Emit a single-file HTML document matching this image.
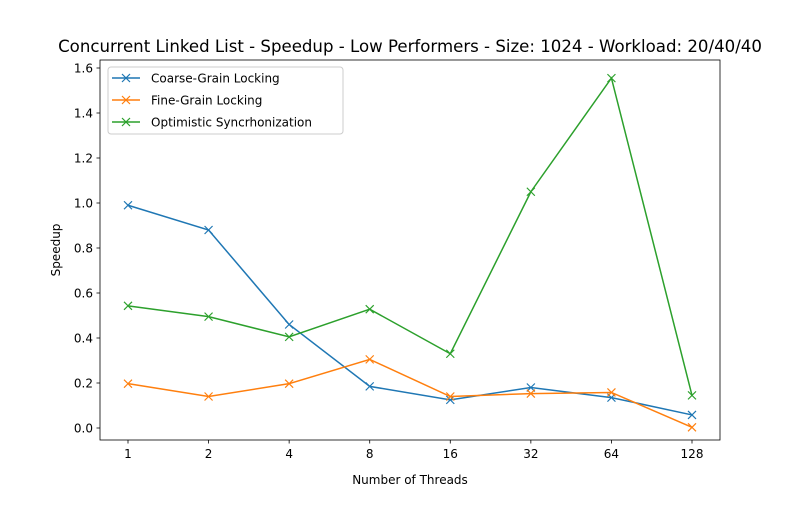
<!DOCTYPE html>
<html><head><meta charset="utf-8"><style>
body{margin:0;background:#fff}
svg text{font-family:"DejaVu Sans","Liberation Sans",sans-serif;fill:#000}
</style></head><body>
<svg id="chart" width="800" height="500">
<rect x="0" y="0" width="800" height="500" fill="#fff"/>
<text x="410" y="52" font-size="16.6" text-anchor="middle">Concurrent Linked List - Speedup - Low Performers - Size: 1024 - Workload: 20/40/40</text>
<g id="axes"></g>
<g id="series"></g>
<rect x="100" y="60" width="620" height="380" fill="none" stroke="#000" stroke-width="0.8"/>
<text x="410" y="484" font-size="12" text-anchor="middle">Number of Threads</text>
<text transform="translate(60,250) rotate(-90)" font-size="12" text-anchor="middle">Speedup</text>
<g id="legend"></g>
</svg>
<script>
const categories=["1","2","4","8","16","32","64","128"];
const coarse=[0.99,0.88,0.46,0.185,0.125,0.18,0.135,0.058];
const fine=[0.197,0.14,0.197,0.305,0.14,0.153,0.158,0.003];
const optimistic=[0.543,0.495,0.405,0.528,0.33,1.05,1.555,0.145];
const yTicks=[0,0.2,0.4,0.6,0.8,1.0,1.2,1.4,1.6];
const seriesNames=["Coarse-Grain Locking","Fine-Grain Locking","Optimistic Syncrhonization"];
const colors=["#1f77b4","#ff7f0e","#2ca02c"];
const NS="http://www.w3.org/2000/svg";
function xs(i){return 128+i*(692-128)/(categories.length-1);}
function ys(v){return 428-v*225;}
function mk(t,a,p){const e=document.createElementNS(NS,t);for(const k in a)e.setAttribute(k,a[k]);p.appendChild(e);return e;}
const axes=document.getElementById('axes');
categories.forEach((c,i)=>{
 const l=mk('line',{x1:xs(i),x2:xs(i),y1:440,y2:443.5,stroke:'#000','stroke-width':0.8},axes);
 
 
 const t=mk('text',{x:xs(i),y:458,'font-size':12,'text-anchor':'middle'},axes);t.textContent=c;
 
 
});
yTicks.forEach(v=>{
 const l=mk('line',{x1:96.5,x2:100,y1:ys(v),y2:ys(v),stroke:'#000','stroke-width':0.8},axes);
 
 
 const t=mk('text',{x:93,y:ys(v)+4.5,'font-size':12,'text-anchor':'end'},axes);t.textContent=v.toFixed(1);
 
 
});
const sg=document.getElementById('series');
[coarse,fine,optimistic].forEach((d,s)=>{
 const g=mk('g',{},sg);
 
 
 const p=mk('polyline',{points:d.map((v,i)=>xs(i)+','+ys(v)).join(' '),fill:'none',stroke:colors[s],'stroke-width':1.5},g);
 
 
 d.forEach((v,i)=>{
  const x=xs(i),y=ys(v);
  const m=mk('path',{d:`M${x-4},${y-4}L${x+4},${y+4}M${x-4},${y+4}L${x+4},${y-4}`,stroke:colors[s],'stroke-width':1.2},g);
  
  
 });
});
const lg=document.getElementById('legend');
mk('rect',{x:108,y:67,width:235,height:67,rx:3,fill:'#fff','fill-opacity':0.8,stroke:'#ccc'},lg);
seriesNames.forEach((n,s)=>{
 const y=78+s*22;
 const g=mk('g',{},lg);
 
 
 mk('line',{x1:112,x2:140,y1:y,y2:y,stroke:colors[s],'stroke-width':1.5},g);
 mk('path',{d:`M122,${y-4}L130,${y+4}M122,${y+4}L130,${y-4}`,stroke:colors[s],'stroke-width':1.2},g);
 const t=mk('text',{x:151,y:y+4.5,'font-size':12},g);t.textContent=n;
});
</script>
</body></html>
